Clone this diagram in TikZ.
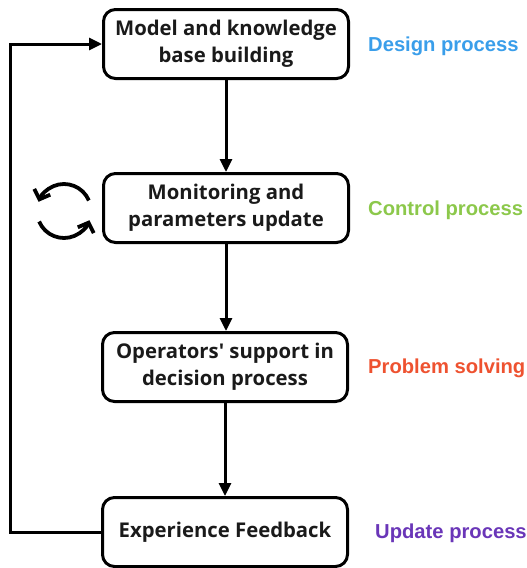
\documentclass[tikz,border=0pt]{standalone}
\usepackage{fontspec}
\setmainfont{Open Sans}
\newfontfamily\labelfont{Liberation Sans}
\usetikzlibrary{arrows.meta}
\definecolor{cdesign}{HTML}{3A9EEA}
\definecolor{ccontrol}{HTML}{8CC84B}
\definecolor{cproblem}{HTML}{EE5230}
\definecolor{cupdate}{HTML}{6A36B8}
\definecolor{ctext}{HTML}{1A1A1A}
\tikzset{
  procbox/.style={draw=black, line width=3pt, rounded corners=12pt, minimum width=245pt, minimum height=69pt, align=center, inner sep=0pt, font=\bfseries\fontsize{20.3}{27}\selectfont, text=ctext},
  flow/.style={line width=3pt, -{Triangle[length=13pt,width=12pt]}},
  sidelabel/.style={anchor=west, inner sep=0pt, font=\labelfont\bfseries\fontsize{20.2}{22}\selectfont},
  cyc/.style={line width=3.8pt, -{Straight Barb[length=8pt,width=17pt]}}
}
\begin{document}
\begin{tikzpicture}[x=1pt,y=-1pt]
\useasboundingbox (0,0) rectangle (527,568);
\node[procbox] (b1) at (226,44) {Model and knowledge\\base building};
\node[procbox] (b2) at (226,208) {Monitoring and\\parameters update};
\node[procbox] (b3) at (225,367) {Operators\textquotesingle{} support in\\decision process};
\node[procbox] (b4) at (225,532) {Experience Feedback};
\draw[flow] (b1.south) -- (b1.south |- b2.north);
\draw[flow] (b2.south -| b1.south) -- (b1.south |- b3.north);
\draw[flow] (b3.south) -- (b4.north);
\coordinate (fl) at (10,532);
\coordinate (ft) at (10,44);
\draw[flow] (b4.west) -- (fl) -- (ft) -- (b1.west);
\node[sidelabel, text=cdesign] (l1) at (368,46.5) {Design process};
\node[sidelabel, text=ccontrol] (l2) at (368,210.5) {Control process};
\node[sidelabel, text=cproblem] (l3) at (368,368.5) {Problem solving};
\node[sidelabel, text=cupdate] (l4) at (375,533.5) {Update process};
\coordinate (cc) at (64,211);
\draw[cyc] ([shift={(-23:27)}]cc) arc[start angle=-23, end angle=-160, radius=27];
\draw[cyc] ([shift={(-203:27)}]cc) arc[start angle=-203, end angle=-340, radius=27];
\end{tikzpicture}
\end{document}
